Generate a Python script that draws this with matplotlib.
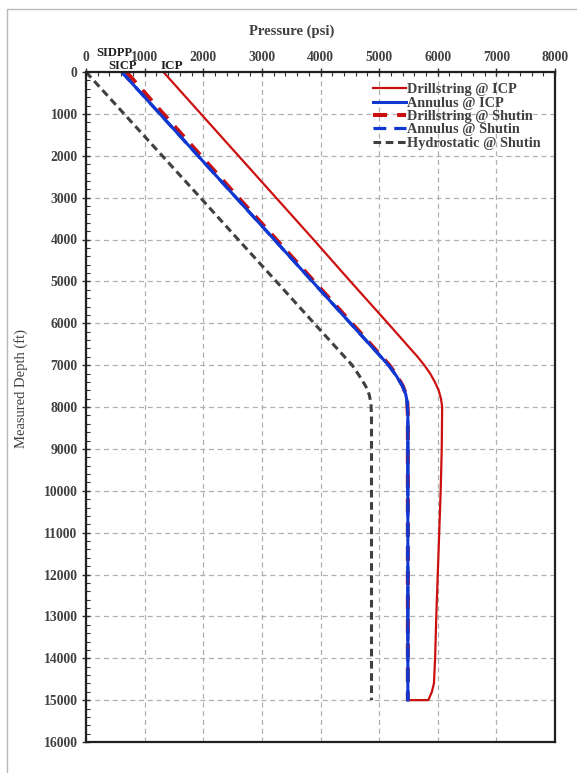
import matplotlib
matplotlib.use("Agg")
import matplotlib.pyplot as plt
from matplotlib.patches import Rectangle
from matplotlib.ticker import MultipleLocator

# Measured depth (ft) at each profile node
depth = [0, 1000, 2000, 3000, 4000, 5000, 6000, 7000, 7250, 7500, 7700, 7900, 8200, 15000]

# Pressures (psi) along the well, same nodes as depth
annulus_icp = [610, 1260, 1910, 2560, 3210, 3860, 4510, 5160, 5290, 5400, 5455, 5480, 5490, 5490]
annulus_shutin = [610, 1260, 1910, 2560, 3210, 3860, 4510, 5160, 5290, 5400, 5455, 5480, 5490, 5490]
drillstring_shutin = [690, 1320, 1960, 2600, 3245, 3890, 4535, 5175, 5300, 5405, 5458, 5481, 5490, 5490]
hydrostatic_shutin = [0, 650, 1300, 1950, 2595, 3245, 3890, 4540, 4660, 4770, 4830, 4860, 4870, 4870]

# Drillstring while circulating at ICP has its own node list (bit at 15000 ft)
depth_ds_icp = [0, 1000, 2000, 3000, 4000, 5000, 6000, 6500, 6800, 7000, 7200, 7400, 7600, 7800,
                8000, 9000, 10000, 11000, 12000, 13000, 14000, 14600, 14800, 15000, 15000]
drillstring_icp = [1320, 1960, 2600, 3240, 3880, 4510, 5150, 5465, 5655, 5770, 5870, 5950, 6015, 6055,
                   6075, 6068, 6050, 6025, 6000, 5975, 5955, 5935, 5900, 5840, 5490]

plt.rcParams["font.family"] = ["Liberation Serif", "DejaVu Serif"]
txt_col = "#404040"

fig = plt.figure(figsize=(5.77, 7.73), dpi=100)
ax = fig.add_axes([86 / 577, 1 - 742 / 773, (555 - 86) / 577, (742 - 72) / 773])

red = "#cc1010"
blue = "#1038d0"
ax.plot(drillstring_icp, depth_ds_icp, color=red, lw=1.6, label="Drillstring @ ICP", zorder=2.0)
ax.plot(annulus_icp, depth, color=blue, lw=2.2, label="Annulus @ ICP", zorder=2.2)
ax.plot(drillstring_shutin, depth, color=red, lw=2.9, ls=(0, (3.5, 2.5)),
        label="Drillstring @ Shutin", zorder=2.1)
ax.plot(annulus_shutin, depth, color=blue, lw=2.3, ls=(0, (4, 2.5)),
        label="Annulus @ Shutin", zorder=2.3)
ax.plot(hydrostatic_shutin, depth, color="#404040", lw=2.2, ls=(0, (2.5, 1.5)),
        label="Hydrostatic @ Shutin", zorder=2.4)

ax.set_xlim(0, 8000)
ax.set_ylim(16000, 0)
ax.xaxis.set_major_locator(MultipleLocator(1000))
ax.xaxis.set_minor_locator(MultipleLocator(200))
ax.yaxis.set_major_locator(MultipleLocator(1000))
ax.yaxis.set_minor_locator(MultipleLocator(200))
ax.xaxis.tick_top()
ax.tick_params(which="major", direction="inout", length=6, width=1, color="#303030",
               labelsize=9.8, labelcolor=txt_col, pad=3)
ax.tick_params(which="minor", direction="in", length=3, width=0.8, color="#303030")
ax.tick_params(axis="x", which="both", top=True, bottom=False)
for lbl in ax.get_xticklabels() + ax.get_yticklabels():
    lbl.set_fontweight("bold")

ax.grid(True, which="major", color="#b0b0b0", ls=(0, (4, 3)), lw=0.9)
for s in ax.spines.values():
    s.set_color("#202020")
    s.set_linewidth(1.6)

# Axis titles
fig.text(292 / 577, 1 - 31 / 773, "Pressure (psi)", ha="center", va="center",
         fontsize=10.5, fontweight="bold", color=txt_col)
fig.text(21 / 577, 1 - 388 / 773, "Measured Depth (ft)", ha="center", va="center",
         rotation=90, fontsize=10.5, color=txt_col)

# Surface pressure markers above the top axis
ax.text(annulus_icp[0] - 130, -460, "SIDPP", ha="center", va="center", fontsize=9,
        fontweight="bold", color="#202020", clip_on=False)
ax.text(annulus_icp[0] + 20, -140, "SICP", ha="center", va="center", fontsize=9,
        fontweight="bold", color="#202020", clip_on=False)
ax.text(drillstring_icp[0] + 150, -140, "ICP", ha="center", va="center", fontsize=9.5,
        fontweight="bold", color="#202020", clip_on=False)

leg = ax.legend(loc="upper right", bbox_to_anchor=(0.99, 0.998), frameon=False,
                handlelength=2.3, handletextpad=0.08, labelspacing=0.02, borderpad=0.2,
                prop={"size": 10.3, "weight": "bold"})
for t in leg.get_texts():
    t.set_color(txt_col)

# Light frame around the figure
fig.add_artist(Rectangle((7 / 577, -0.05), 1.2, 1 - 9 / 773 + 0.05, transform=fig.transFigure,
                         fill=False, edgecolor="#b8b8b8", lw=1.0))

fig.savefig("out.png", dpi=100)
